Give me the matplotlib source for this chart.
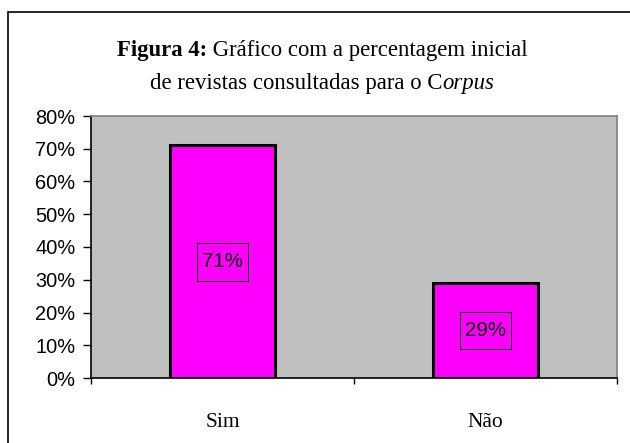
import matplotlib
matplotlib.use("Agg")
from matplotlib import pyplot as plt
from matplotlib.patches import Rectangle
from matplotlib.path import Path
from matplotlib.ticker import FixedLocator, FuncFormatter

categories = ["Sim", "Não"]
values = [71, 29]
yticks = [0, 10, 20, 30, 40, 50, 60, 70, 80]

W, H = 630, 443
fig = plt.figure(figsize=(W / 100, H / 100), dpi=100)
fig.patch.set_facecolor("white")

# outer frame (only left and top edges fall inside the picture)
fig.patches.append(Rectangle((8 / W, -0.1), 1.2, 1.1 - 12 / H, transform=fig.transFigure,
                             fill=False, edgecolor="black", linewidth=1.2))

ax = fig.add_axes([91 / W, 1 - 378 / H, 526 / W, 262 / H])
ax.set_facecolor("#c0c0c0")


def label_box(x0, y0, width, height, mutation_size):
    # box around the value labels, taller than it is padded sideways
    px, py = 0.22 * mutation_size, 0.46 * mutation_size
    x0, y0 = x0 - px, y0 - py
    x1, y1 = x0 + width + 2 * px, y0 + height + 2 * py
    return Path([(x0, y0), (x1, y0), (x1, y1), (x0, y1), (x0, y0)], closed=True)


x = list(range(len(categories)))
bars = ax.bar(x, values, width=0.40, color="#ff00ff", edgecolor="black", linewidth=2.2, zorder=3)

for xi, v in zip(x, values):
    ax.text(xi, v / 2, f"{v}%", ha="center", va="center", fontsize=14.8,
            family="Liberation Sans", zorder=4,
            bbox=dict(boxstyle=label_box, facecolor="#ff00ff",
                      edgecolor="black", linewidth=0.7))

ax.set_xlim(-0.5, len(categories) - 0.5)
ax.set_ylim(0, 80)
ax.set_yticks(yticks)
ax.yaxis.set_major_formatter(FuncFormatter(lambda v, p: f"{v:.0f}%"))
ax.tick_params(axis="y", direction="out", length=5.8, width=1, pad=5.5, labelsize=14.4)
for lab in ax.get_yticklabels():
    lab.set_family("Liberation Sans")

ax.xaxis.set_major_locator(FixedLocator([-0.5, 0.5, 1.5]))
ax.xaxis.set_major_formatter(FuncFormatter(lambda v, p: ""))
ax.xaxis.set_minor_locator(FixedLocator(x))
ax.set_xticklabels(categories, minor=True)
ax.tick_params(axis="x", which="major", direction="out", length=4.5, width=1)
ax.tick_params(axis="x", which="minor", length=0, pad=25, labelsize=15.5)
for lab in ax.get_xticklabels(minor=True):
    lab.set_family("Liberation Serif")

ax.spines["left"].set_color("black")
ax.spines["bottom"].set_color("black")
ax.spines["top"].set_color("#808080")
ax.spines["right"].set_color("#808080")
for s in ax.spines.values():
    s.set_linewidth(1.2)


def rich_line(y, parts, size):
    texts = [fig.text(0, y, s, ha="left", va="baseline", fontsize=size,
                      family="Liberation Serif", **kw) for s, kw in parts]
    fig.canvas.draw()
    r = fig.canvas.get_renderer()
    widths = [t.get_window_extent(r).width for t in texts]
    xpos = 322 - sum(widths) / 2
    for t, w in zip(texts, widths):
        t.set_x(xpos / W)
        xpos += w


title_size = 16.4
rich_line(1 - 56 / H, [("Figura 4:", {"weight": "bold"}),
                       ("\u00a0Gráfico com a percentagem inicial", {})], title_size)
rich_line(1 - 89 / H, [("de revistas consultadas para o C", {}),
                       ("orpus", {"style": "italic"})], title_size)

fig.savefig("out.png", dpi=100)
